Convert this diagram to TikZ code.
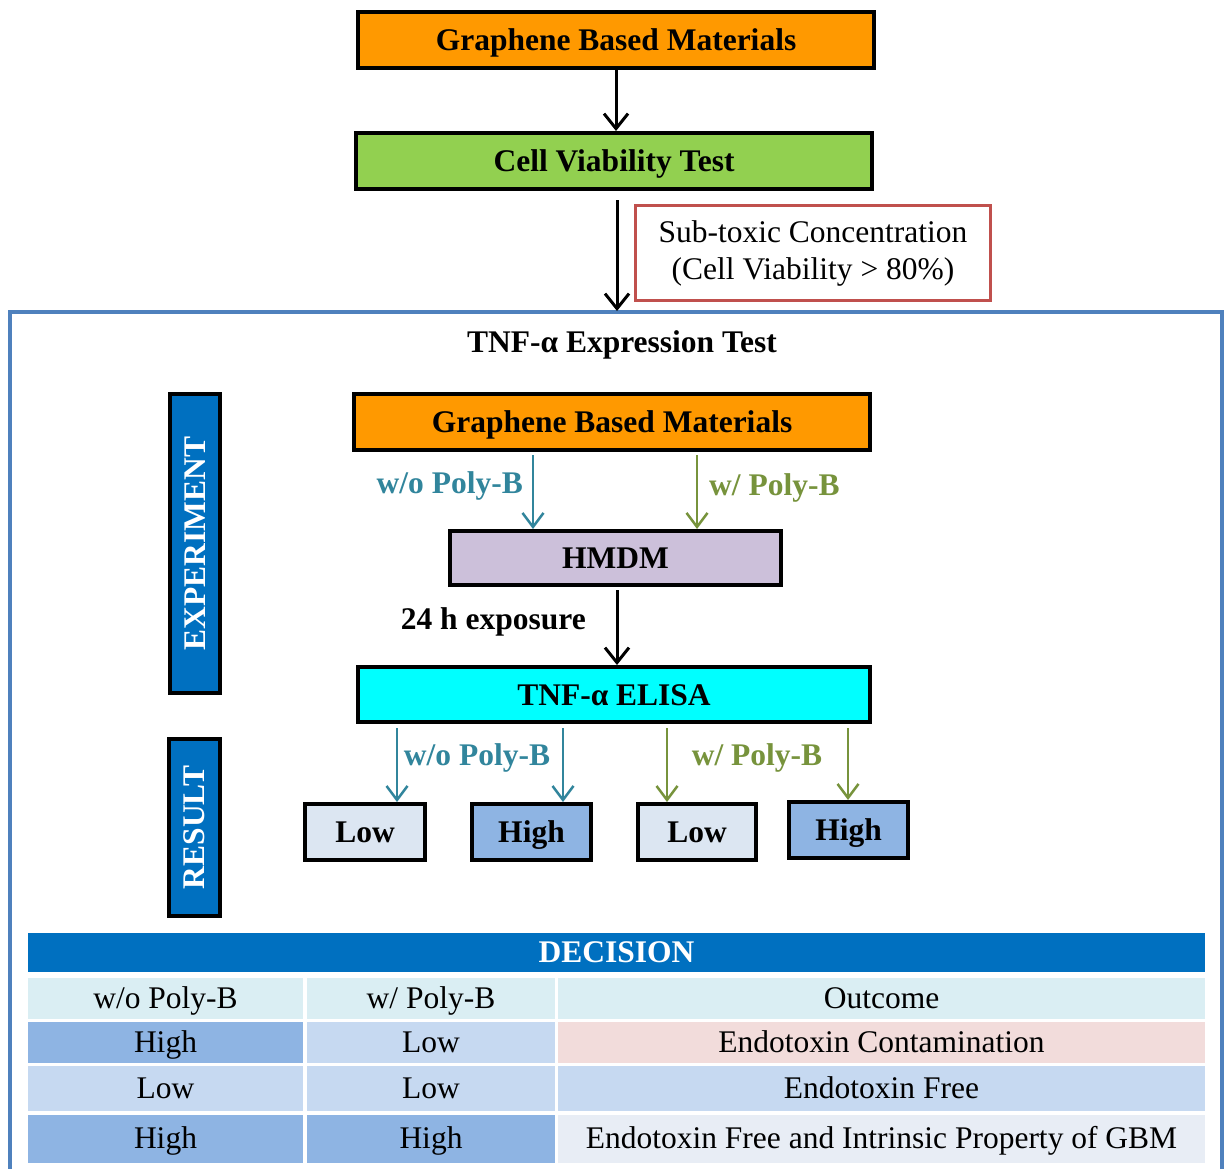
\documentclass[tikz,border=0pt]{standalone}
\usepackage{fontspec}
\setmainfont{Liberation Serif}
\usetikzlibrary{arrows.meta,calc}
\definecolor{gbmorange}{HTML}{FF9900}
\definecolor{cvgreen}{HTML}{92D050}
\definecolor{lav}{HTML}{CCC0DA}
\definecolor{cyanbox}{HTML}{00FFFF}
\definecolor{darkblue}{HTML}{0070C0}
\definecolor{teal}{HTML}{31859C}
\definecolor{olive}{HTML}{77933C}
\definecolor{frameblue}{HTML}{4F81BD}
\definecolor{redline}{HTML}{C0504D}
\definecolor{lowfill}{HTML}{DCE6F2}
\definecolor{highfill}{HTML}{8EB4E3}
\definecolor{hdrrow}{HTML}{DAEEF3}
\definecolor{midblue}{HTML}{C6D9F1}
\definecolor{pink}{HTML}{F2DCDB}
\definecolor{pale}{HTML}{E8EDF5}
\begin{document}
\begin{tikzpicture}[x=1pt,y=-1pt,
  box/.style={draw=black, line width=4pt, inner sep=0pt, text height=26pt, text depth=5pt,
              font=\fontsize{31.5}{36}\selectfont\bfseries},
  sidebox/.style={draw=black, line width=4pt, inner sep=0pt, font=\fontsize{31.5}{36}\selectfont\bfseries,
              fill=darkblue, text=white, rotate=90},
  arr/.style={-{Straight Barb[length=15pt,width=24pt]}, line width=3pt},
  carr/.style={-{Straight Barb[length=14pt,width=21pt]}, line width=2.5pt},
  lbl/.style={inner sep=0pt, font=\fontsize{31.5}{36}\selectfont\bfseries},
  cell/.style={inner sep=0pt, text height=25pt, text depth=6pt, font=\fontsize{31.5}{36}\selectfont}
]
\useasboundingbox (0,0) rectangle (1225,1168);
\clip (0,0) rectangle (1225,1168);
\fill[white] (0,0) rectangle (1225,1168);

% top part
\node[box, fill=gbmorange, minimum width=516pt, minimum height=56pt] (gbm1) at (616,40) {Graphene Based Materials};
\node[box, fill=cvgreen, minimum width=516pt, minimum height=56pt] (cvt) at (614,161) {Cell Viability Test};
\node[draw=redline, line width=3pt, minimum width=355pt, minimum height=95pt, inner sep=0pt, align=center,
      font=\fontsize{31.5}{37}\selectfont] (sub) at (813,253) {Sub-toxic Concentration\\(Cell Viability > 80\%)};

% frame
\draw[frameblue, line width=3.5pt] (10,312) rectangle (1222,1180);
\node[lbl] (title) at (622,345) {TNF-α Expression Test};
\coordinate (ftop) at (617,311);

\draw[arr] (gbm1.south) -- (cvt.north -| gbm1.south);
\draw[arr] ([yshift=-9pt]cvt.south -| ftop) -- (ftop);

% side labels
\node[sidebox, minimum width=299pt, minimum height=50pt] (exp) at (195,543.5) {EXPERIMENT};
\node[sidebox, minimum width=177pt, minimum height=51pt] (res) at (194.5,827.5) {RESULT};

% experiment flow
\node[box, fill=gbmorange, minimum width=516pt, minimum height=56pt] (gbm2) at (612,422) {Graphene Based Materials};
\node[box, fill=lav, minimum width=331pt, minimum height=54pt] (hmdm) at (615.5,558) {HMDM};
\node[box, fill=cyanbox, minimum width=512pt, minimum height=55pt] (elisa) at (614,694.5) {TNF-α ELISA};

\draw[carr, teal] ([xshift=-79pt,yshift=-3pt]gbm2.south) -- ([xshift=-82.5pt]hmdm.north);
\draw[carr, olive] ([xshift=85pt,yshift=-3pt]gbm2.south) -- ([xshift=81.5pt]hmdm.north);
\node[lbl, text=teal, anchor=east] (l1) at (523,486) {w/o Poly-B};
\node[lbl, text=olive, anchor=west] (l2) at (709,488) {w/ Poly-B};

\draw[arr] ([xshift=1.5pt,yshift=-3pt]hmdm.south) -- ([xshift=3pt]elisa.north);
\node[lbl, anchor=east] (l3) at (586,622) {24 h exposure};

% results
\node[box, fill=lowfill, minimum width=120pt, minimum height=56pt] (low1) at (365,832) {Low};
\node[box, fill=highfill, minimum width=119pt, minimum height=56pt] (high1) at (531.5,832) {High};
\node[box, fill=lowfill, minimum width=118pt, minimum height=56pt] (low2) at (697,832) {Low};
\node[box, fill=highfill, minimum width=119pt, minimum height=56pt] (high2) at (848.5,830) {High};

\draw[carr, teal] ([yshift=-4pt]elisa.south -| 397,0) -- ([xshift=32pt]low1.north);
\draw[carr, teal] ([yshift=-4pt]elisa.south -| 563,0) -- ([xshift=31.5pt]high1.north);
\draw[carr, olive] ([yshift=-4pt]elisa.south -| 667,0) -- ([xshift=-30pt]low2.north);
\draw[carr, olive] ([yshift=-4pt]elisa.south -| 848,0) -- ([xshift=-0.5pt]high2.north);
\node[lbl, text=teal] (l4) at (477,758) {w/o Poly-B};
\node[lbl, text=olive] (l5) at (757,758) {w/ Poly-B};

% decision table
\node[fill=darkblue, text=white, minimum width=1177pt, minimum height=39pt, inner sep=0pt,
      text height=25pt, text depth=6pt,
      font=\fontsize{31.5}{36}\selectfont\bfseries] (dec) at (616.5,952.5) {DECISION};

\node[cell, fill=hdrrow, minimum width=275pt, minimum height=41pt] (c11) at (165.5,998.5) {w/o Poly-B};
\node[cell, fill=hdrrow, minimum width=248pt, minimum height=41pt] (c12) at (431,998.5) {w/ Poly-B};
\node[cell, fill=hdrrow, minimum width=647pt, minimum height=41pt] (c13) at (881.5,998.5) {Outcome};

\node[cell, fill=highfill, minimum width=275pt, minimum height=41pt] (c21) at (165.5,1042.5) {High};
\node[cell, fill=midblue, minimum width=248pt, minimum height=41pt] (c22) at (431,1042.5) {Low};
\node[cell, fill=pink, minimum width=647pt, minimum height=41pt] (c23) at (881.5,1042.5) {Endotoxin Contamination};

\node[cell, fill=midblue, minimum width=275pt, minimum height=45pt] (c31) at (165.5,1088.5) {Low};
\node[cell, fill=midblue, minimum width=248pt, minimum height=45pt] (c32) at (431,1088.5) {Low};
\node[cell, fill=midblue, minimum width=647pt, minimum height=45pt] (c33) at (881.5,1088.5) {Endotoxin Free};

\node[cell, fill=highfill, minimum width=275pt, minimum height=48pt] (c41) at (165.5,1139) {High};
\node[cell, fill=highfill, minimum width=248pt, minimum height=48pt] (c42) at (431,1139) {High};
\node[cell, fill=pale, minimum width=647pt, minimum height=48pt] (c43) at (881.5,1139) {Endotoxin Free and Intrinsic Property of GBM};
\end{tikzpicture}
\end{document}
